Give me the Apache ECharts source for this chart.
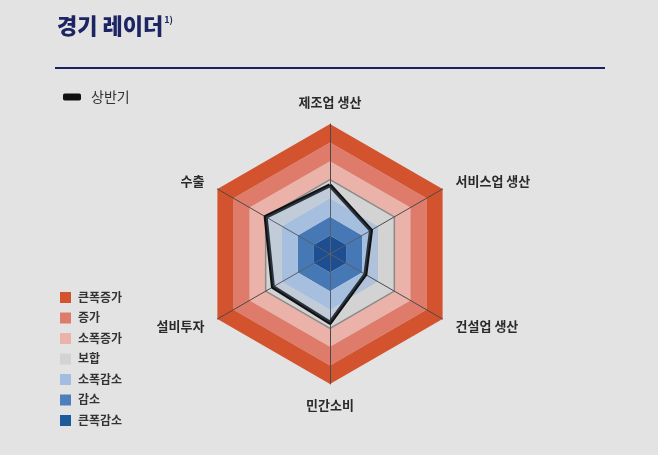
<!DOCTYPE html>
<html>
<head>
<meta charset="utf-8">
<script src="https://cdn.jsdelivr.net/npm/echarts@6/dist/echarts.min.js"></script>
<style>
  html, body { margin: 0; padding: 0; background: #e3e3e3; }
  #container { width: 658px; height: 455px; }
</style>
</head>
<body>
<div id="container"></div>
<script>
var dom = document.getElementById("container");
var myChart = echarts.init(dom);

// indicators, counter-clockwise from the top
var indicators = ["제조업 생산", "수출", "설비투자", "민간소비", "건설업 생산", "서비스업 생산"];
var levelMax = 7;
var seriesName = "상반기";
var seriesValues = [3.7, 4.0, 3.55, 3.7, 2.2, 2.55];

// band key, outer to inner
var bandNames = ["큰폭증가", "증가", "소폭증가", "보합", "소폭감소", "감소", "큰폭감소"];
var bandColors = ["#d3532f", "#de7b6b", "#ebb2a9", "#d3d3d3", "#a2bde0", "#4c7fbb", "#1d5a9c"];
// ring fills sit under the tinted data area, so the blues are a bit deeper
var ringColors = ["#d3532f", "#de7b6b", "#ebb2a9", "#d3d3d3", "#b0c2d9", "#3568a4", "#003378"];

var font = "Noto Sans CJK KR";

initChart();

function initChart() {
  // splitArea colours go inner -> outer
  var areaColors = ringColors.slice().reverse();
  var lineColors = [];
  for (var i = 0; i <= levelMax; i++) {
    lineColors.push(i === 4 ? "#8a8a8a" : "rgba(0,0,0,0)");
  }

  var keyItems = [];
  bandNames.forEach(function (name, i) {
    var y = 292 + i * 20.5;
    keyItems.push({
      type: "rect",
      left: 60,
      top: y,
      shape: { width: 11, height: 11 },
      style: { fill: bandColors[i] },
    });
    keyItems.push({
      type: "text",
      left: 78,
      top: y - 1,
      style: {
        text: name,
        font: "bold 12px '" + font + "'",
        fill: "#333",
      },
    });
  });

  var option = {
    backgroundColor: "#e3e3e3",
    title: {
      left: 52,
      top: 10,
      text: "{a|경기 레이더}{b|1)}",
      textStyle: {
        rich: {
          a: { fontFamily: font, fontSize: 22, fontWeight: 900, color: "#1c2463" },
          b: { fontFamily: font, fontSize: 9, fontWeight: "bold", color: "#1c2463", verticalAlign: "top", padding: [0, 0, 12, 1] },
        },
      },
    },
    legend: {
      left: 58,
      top: 85,
      icon: "roundRect",
      itemWidth: 18,
      itemHeight: 7,
      data: [seriesName],
      textStyle: { fontFamily: font, fontSize: 14, color: "#333", padding: [0, 0, 0, 5] },
    },
    graphic: [
      {
        type: "line",
        shape: { x1: 55, y1: 68, x2: 605, y2: 68 },
        style: { stroke: "#1a2060", lineWidth: 2 },
      },
    ].concat(keyItems),
    radar: {
      center: [330, 254],
      radius: 130,
      startAngle: 90,
      splitNumber: levelMax,
      shape: "polygon",
      indicator: indicators.map(function (n) {
        return { name: n, min: 0, max: levelMax };
      }),
      axisName: {
        color: "#2a2a2a",
        fontFamily: font,
        fontSize: 13,
        fontWeight: "bold",
      },
      axisLine: { lineStyle: { color: "#4a4a4a", width: 1 } },
      splitLine: { lineStyle: { color: lineColors, width: 1.5 } },
      splitArea: { areaStyle: { color: areaColors, opacity: 1 } },
    },
    series: [
      {
        name: seriesName,
        type: "radar",
        symbol: "none",
        itemStyle: { color: "#111" },
        lineStyle: { color: "#111", width: 4 },
        areaStyle: { color: "rgba(130,180,240,0.3)" },
        data: [{ value: seriesValues, name: seriesName }],
      },
    ],
  };

  myChart.setOption(option);
}
</script>
</body>
</html>
